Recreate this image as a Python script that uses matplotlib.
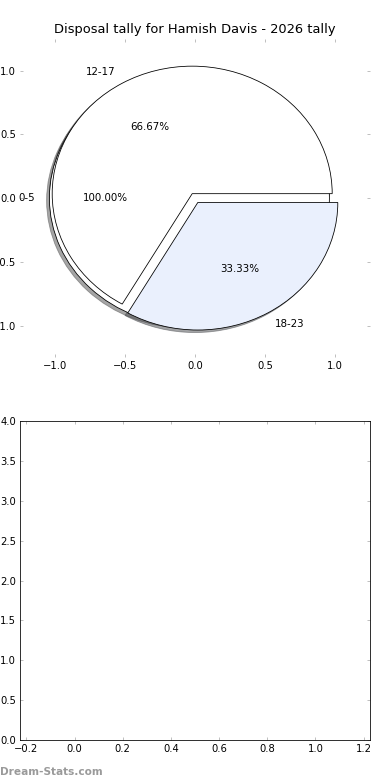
import matplotlib
matplotlib.use("Agg")
import matplotlib.pyplot as plt

# age brackets shown as pie wedges
first_labels = ['0-5']
first_values = [1]
second_labels = ['12-17', '18-23']
second_values = [2, 1]
title = 'Disposal tally for Hamish Davis - 2026 tally'

fig = plt.figure(figsize=(390 / 72, 780 / 72), dpi=72)
fig.subplots_adjust(left=20 / 390, right=370 / 390, top=1 - 38.7 / 780,
                    bottom=1 - 740 / 780, hspace=0.2)
ax1 = fig.add_subplot(2, 1, 1)
ax2 = fig.add_subplot(2, 1, 2)

wedge_style = dict(edgecolor='black', linewidth=0.8)
text_style = dict(fontsize=10.3)
ax1.pie(first_values, labels=first_labels, explode=[0.04] * len(first_values),
        colors=['white'], autopct='%1.2f%%', shadow=True, wedgeprops=wedge_style,
        textprops=text_style, frame=True)
ax1.pie(second_values, labels=second_labels, explode=[0.04] * len(second_values),
        colors=['white', '#eaf0fd'], autopct='%1.2f%%', shadow=True,
        wedgeprops=wedge_style, textprops=text_style, frame=True)
ax1.set_aspect('auto')
ax1.set_xlim(-1.25, 1.25)
ax1.set_ylim(-1.25, 1.25)
ax1.set_xticks([-1.0, -0.5, 0.0, 0.5, 1.0])
ax1.set_yticks([-1.0, -0.5, 0.0, 0.5, 1.0])
for s in ax1.spines.values():
    s.set_visible(False)
ax1.set_title(title, fontsize=13)

ax2.set_xlim(-0.227, 1.227)
ax2.set_ylim(0, 4)
ax2.set_xticks([-0.2, 0.0, 0.2, 0.4, 0.6, 0.8, 1.0, 1.2])
ax2.set_yticks([0.0, 0.5, 1.0, 1.5, 2.0, 2.5, 3.0, 3.5, 4.0])

for ax in (ax1, ax2):
    ax.tick_params(direction='in', length=3, width=1, color='#c0c0c0',
                   labelsize=10, top=True, right=True, pad=4)

fig.text(0.0, 0.004, 'Dream-Stats.com', color='#9a9a9a', fontsize=10.5,
         fontweight='semibold', ha='left', va='bottom')

fig.savefig('out.png', dpi=72)
